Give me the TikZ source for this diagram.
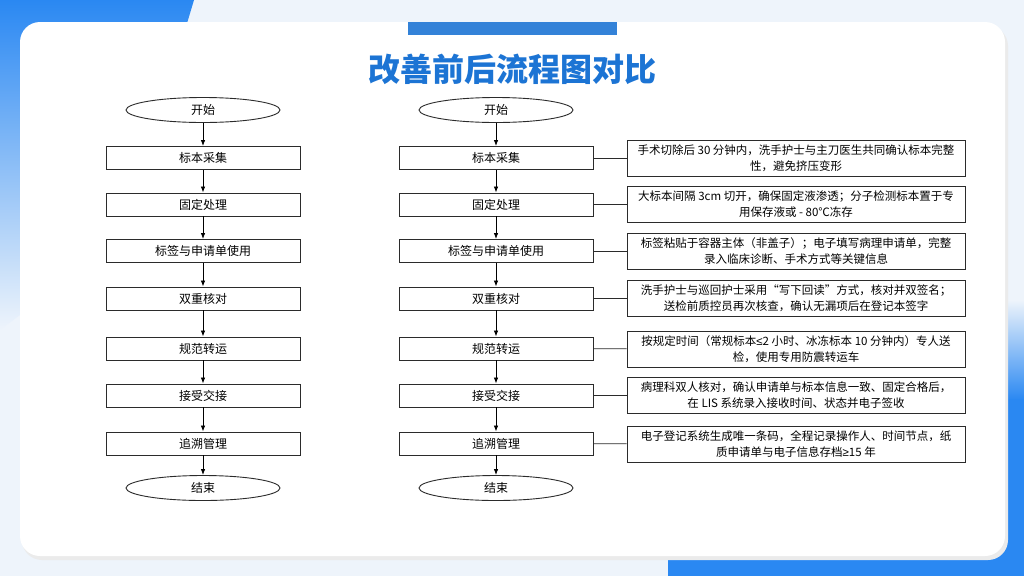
\documentclass[tikz,border=0pt]{standalone}
\usepackage{fontspec}
\setmainfont{Noto Sans CJK SC}
\newfontfamily\symf{Liberation Sans}
\usetikzlibrary{shapes.geometric,arrows.meta,calc}
\definecolor{bgc}{HTML}{EEF4FB}
\definecolor{blu}{HTML}{2A88F2}
\definecolor{titc}{HTML}{1C74D4}
\definecolor{edgec}{HTML}{2B2B2B}
\begin{document}
\begin{tikzpicture}[x=1pt,y=-1pt,
  flowbox/.style={draw=edgec,line width=0.9pt,fill=white,minimum width=194pt,minimum height=23pt,inner sep=0pt,font=\fontsize{12}{14}\selectfont},
  descbox/.style={draw=edgec,line width=0.9pt,fill=white,minimum width=338pt,minimum height=36pt,inner sep=0pt,align=center,font=\fontsize{11.5}{16}\selectfont},
  term/.style={ellipse,draw=edgec,line width=0.9pt,fill=white,minimum width=154pt,minimum height=25pt,inner sep=0pt,font=\fontsize{12}{14}\selectfont},
  flowarrow/.style={-{Latex[length=6pt,width=4.5pt]},line width=0.8pt,black},
  link/.style={line width=0.8pt,edgec}]
\useasboundingbox (0,0) rectangle (1024,576);
% background
\fill[bgc] (0,0) rectangle (1024,576);
\shade[top color=blu,bottom color=bgc] (0,0) -- (194,0) -- (176,60) -- (40,300) -- (0,330) -- cycle;
\shade[top color=bgc,bottom color=blu] (668,300) rectangle (1024,400);
\fill[blu] (668,399) rectangle (1024,576);
% card
\fill[black!8,rounded corners=20pt] (22,26) rectangle (1008,560);
\fill[white,rounded corners=20pt] (20,22) rectangle (1005,556);
\fill[titc!90!white] (408,22) rectangle (617,35);
\node[font=\fontsize{32}{34}\selectfont\bfseries,text=titc] (title) at (512,69) {改善前后流程图对比};
% left flow
\node[term] (ls) at (203,110) {开始};
\node[flowbox] (l1) at (203,158) {标本采集};
\node[flowbox] (l2) at (203,204.5) {固定处理};
\node[flowbox] (l3) at (203,251) {标签与申请单使用};
\node[flowbox] (l4) at (203,298.5) {双重核对};
\node[flowbox] (l5) at (203,348.5) {规范转运};
\node[flowbox] (l6) at (203,395.5) {接受交接};
\node[flowbox] (l7) at (203,443.5) {追溯管理};
\node[term] (le) at (203,488) {结束};
\draw[flowarrow] (ls) -- (l1);
\draw[flowarrow] (l1) -- (l2);
\draw[flowarrow] (l2) -- (l3);
\draw[flowarrow] (l3) -- (l4);
\draw[flowarrow] (l4) -- (l5);
\draw[flowarrow] (l5) -- (l6);
\draw[flowarrow] (l6) -- (l7);
\draw[flowarrow] (l7) -- (le);
% right flow
\node[term] (rs) at (496,110) {开始};
\node[flowbox] (r1) at (496,158) {标本采集};
\node[flowbox] (r2) at (496,204.5) {固定处理};
\node[flowbox] (r3) at (496,251) {标签与申请单使用};
\node[flowbox] (r4) at (496,298.5) {双重核对};
\node[flowbox] (r5) at (496,348.5) {规范转运};
\node[flowbox] (r6) at (496,395.5) {接受交接};
\node[flowbox] (r7) at (496,443.5) {追溯管理};
\node[term] (re) at (496,488) {结束};
\draw[flowarrow] (rs) -- (r1);
\draw[flowarrow] (r1) -- (r2);
\draw[flowarrow] (r2) -- (r3);
\draw[flowarrow] (r3) -- (r4);
\draw[flowarrow] (r4) -- (r5);
\draw[flowarrow] (r5) -- (r6);
\draw[flowarrow] (r6) -- (r7);
\draw[flowarrow] (r7) -- (re);
% descriptions
\node[descbox] (d1) at (796,158) {手术切除后 30 分钟内，洗手护士与主刀医生共同确认标本完整\\性，避免挤压变形};
\node[descbox] (d2) at (796,204.5) {大标本间隔 3cm 切开，确保固定液渗透；分子检测标本置于专\\用保存液或 - 80℃冻存};
\node[descbox] (d3) at (796,251) {标签粘贴于容器主体（非盖子）；电子填写病理申请单，完整\\录入临床诊断、手术方式等关键信息};
\node[descbox] (d4) at (796,298.5) {洗手护士与巡回护士采用“写下回读”方式，核对并双签名；\\送检前质控员再次核查，确认无漏项后在登记本签字};
\node[descbox] (d5) at (796,349) {按规定时间（常规标本{\symf ≤}2 小时、冰冻标本 10 分钟内）专人送\\检，使用专用防震转运车};
\node[descbox] (d6) at (796,395.5) {病理科双人核对，确认申请单与标本信息一致、固定合格后，\\在 LIS 系统录入接收时间、状态并电子签收};
\node[descbox] (d7) at (796,444) {电子登记系统生成唯一条码，全程记录操作人、时间节点，纸\\质申请单与电子信息存档{\symf ≥}15 年};
\draw[link] (r1) -- (d1);
\draw[link] (r2) -- (d2);
\draw[link] (r3) -- (d3);
\draw[link] (r4) -- (d4);
\draw[link] (r5) -- (d5);
\draw[link] (r6) -- (d6);
\draw[link] (r7) -- (d7);
\end{tikzpicture}
\end{document}
